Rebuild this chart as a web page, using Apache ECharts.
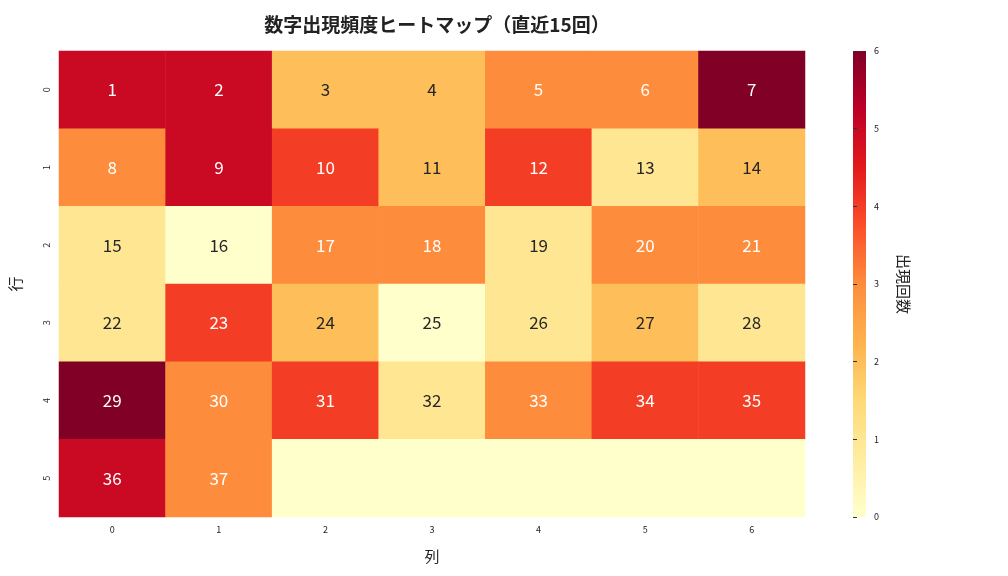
<!DOCTYPE html>
<html><head><meta charset="utf-8">
<script src="https://cdn.jsdelivr.net/npm/echarts@6/dist/echarts.min.js"></script>
</head><body style="margin:0">
<div id="chart" style="width:1008px;height:576px"></div>
<script>
var cols = ['0','1','2','3','4','5','6'];
var rows = ['0','1','2','3','4','5'];
var counts = [
	[5,5,2,2,3,3,6],
	[3,5,4,2,4,1,2],
	[1,0,3,3,1,3,3],
	[1,4,2,0,1,2,1],
	[6,3,4,1,3,4,4],
	[5,3,0,0,0,0,0]
];
var numbers = [
	[1,2,3,4,5,6,7],
	[8,9,10,11,12,13,14],
	[15,16,17,18,19,20,21],
	[22,23,24,25,26,27,28],
	[29,30,31,32,33,34,35],
	[36,37,null,null,null,null,null]
];
var barTicks = [0,1,2,3,4,5,6];
var ylorrd = ['#ffffcc','#ffeda0','#fed976','#feb24c','#fd8d3c','#fc4e2a','#e31a1c','#bd0026','#800026'];

var cells = [];
counts.forEach(function(r, i){
	r.forEach(function(v, j){
		var n = numbers[i][j];
		cells.push({
			value: [j, i, v, n],
			label: {show: n !== null, color: v >= 3 ? '#ffffff' : '#262626'}
		});
	});
});

var chart = echarts.init(document.getElementById('chart'));
var font = '"Noto Sans CJK JP", sans-serif';
chart.setOption({
	textStyle: {fontFamily: font},
	title: {text: '数字出現頻度ヒートマップ（直近15回）', left: 432, top: 10, textAlign: 'center',
		textStyle: {fontSize: 19, fontWeight: 'bold', color: '#222', fontFamily: font}},
	grid: [
		{left: 59, top: 51, width: 746, height: 466},
		{left: 853, top: 51, width: 13, height: 466}
	],
	xAxis: [
		{type: 'category', data: cols, gridIndex: 0, name: '列', nameLocation: 'middle', nameGap: 32,
			nameTextStyle: {fontSize: 15, color: '#222'},
			axisLine: {show: false}, axisTick: {length: 4, lineStyle: {color: '#333'}, alignWithLabel: true},
			axisLabel: {fontSize: 9, color: '#222'}, splitLine: {show: false}},
		{type: 'value', gridIndex: 1, show: false, min: 0, max: 1}
	],
	yAxis: [
		{type: 'category', data: rows, gridIndex: 0, inverse: true, name: '行', nameLocation: 'middle', nameGap: 36,
			nameTextStyle: {fontSize: 15, color: '#222'},
			axisLine: {show: false}, axisTick: {length: 4, lineStyle: {color: '#333'}, alignWithLabel: true},
			axisLabel: {fontSize: 9, color: '#222', rotate: 90}, splitLine: {show: false}},
		{type: 'value', gridIndex: 1, position: 'right', min: 0, max: 6, interval: 1,
			data: barTicks, name: '出現回数', nameLocation: 'middle', nameGap: 30, nameRotate: -90,
			nameTextStyle: {fontSize: 15, color: '#222'},
			axisLine: {show: false}, axisTick: {show: true, length: 4, lineStyle: {color: '#333'}},
			axisLabel: {fontSize: 9, color: '#222'}, splitLine: {show: false}}
	],
	visualMap: {show: false, min: 0, max: 6, dimension: 2, seriesIndex: 0, inRange: {color: ylorrd}},
	graphic: [{
		type: 'rect', shape: {x: 853, y: 51, width: 13, height: 466}, z: 0,
		style: {fill: new echarts.graphic.LinearGradient(0, 1, 0, 0,
			ylorrd.map(function(c, k){ return {offset: k / (ylorrd.length - 1), color: c}; }))}
	}],
	series: [
		{type: 'heatmap', xAxisIndex: 0, yAxisIndex: 0, data: cells,
			label: {show: true, fontSize: 17, formatter: function(p){ return p.value[3]; }},
			emphasis: {disabled: true}}
	]
});
</script>
</body></html>
